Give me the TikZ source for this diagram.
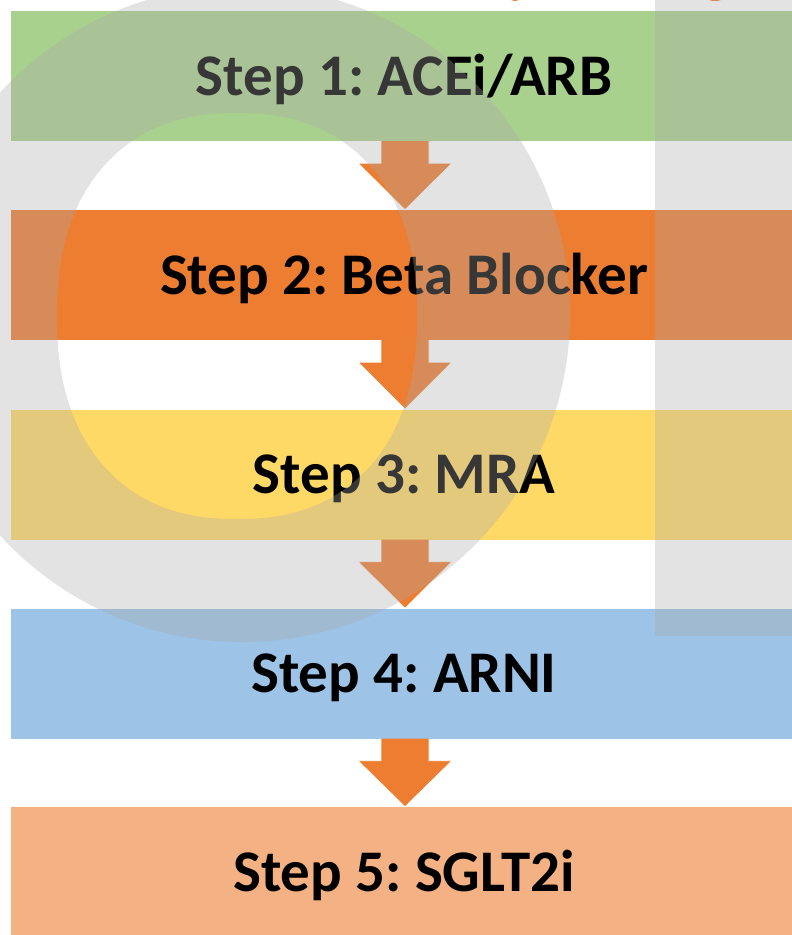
\documentclass[tikz,border=0pt]{standalone}
\usepackage{fontspec}
\setmainfont{Carlito}
\usetikzlibrary{calc}
\frenchspacing

\definecolor{stepgreen}{RGB}{169,209,142}
\definecolor{steporange}{RGB}{237,125,49}
\definecolor{stepyellow}{RGB}{255,217,102}
\definecolor{stepblue}{RGB}{157,195,230}
\definecolor{steppeach}{RGB}{244,177,131}
\definecolor{arrowor}{RGB}{237,125,49}
\definecolor{wmgray}{RGB}{169,169,169}

% block arrow from the bottom of one bar to the top of the next
\newcommand\flowarrow[2]{%
  \filldraw[flowarrowstyle] let \p1=(#1.south), \p2=(#2.north) in
    (\x1+25pt,\y1) -- (\x1+25pt,\y1-22pt) -- (\x1+48pt,\y1-22pt)
    -- (\x2+1pt,\y2) -- (\x1-46pt,\y1-22pt) -- (\x1-23pt,\y1-22pt)
    -- (\x1-23pt,\y1);%
}

\begin{document}
\begin{tikzpicture}[x=1pt,y=-1pt,
  stepbar/.style={rectangle, inner sep=0pt, minimum width=786pt,
    minimum height=130pt, text height=38pt, text depth=0pt,
    font=\fontsize{59}{70}\selectfont\bfseries, text=black},
  flowarrowstyle/.style={fill=arrowor, draw=white, line width=0.8pt},
  watermark/.style={fill=wmgray, opacity=0.326}]

\useasboundingbox (0,0) rectangle (792,935);
\clip (0,0) rectangle (792,935);
\fill[white] (0,0) rectangle (792,935);

% process steps
\node[stepbar, fill=stepgreen]  (s1) at (404,76)    {Step 1: ACEi/ARB};
\node[stepbar, fill=steporange] (s2) at (404,275)   {Step 2: Beta Blocker};
\node[stepbar, fill=stepyellow] (s3) at (404,474.5) {Step 3: MRA};
\node[stepbar, fill=stepblue]   (s4) at (404,673.5) {Step 4: ARNI};
\node[stepbar, fill=steppeach]  (s5) at (404,872)   {Step 5: SGLT2i};

% arrows between steps
\flowarrow{s1}{s2}
\flowarrow{s2}{s3}
\flowarrow{s3}{s4}
\flowarrow{s4}{s5}

% small orange marks along the top edge
\fill[arrowor] (515,-2) ellipse (5 and 3);
\fill[arrowor] (715,-2) ellipse (8 and 3);

% translucent watermark: ring (circle with a rounded-oval hole) and bar
\fill[watermark, even odd rule]
  (242,314) circle (328)
  plot[domain=0:360, samples=144, variable=\t, smooth]
    ({237+180*cos(\t)*(abs(cos(\t))+0.00001)^(-0.1304)},
     {316+203*sin(\t)*(abs(sin(\t))+0.00001)^(-0.1304)}) -- cycle;
\fill[watermark] (655,0) rectangle (792,636);

\end{tikzpicture}
\end{document}
